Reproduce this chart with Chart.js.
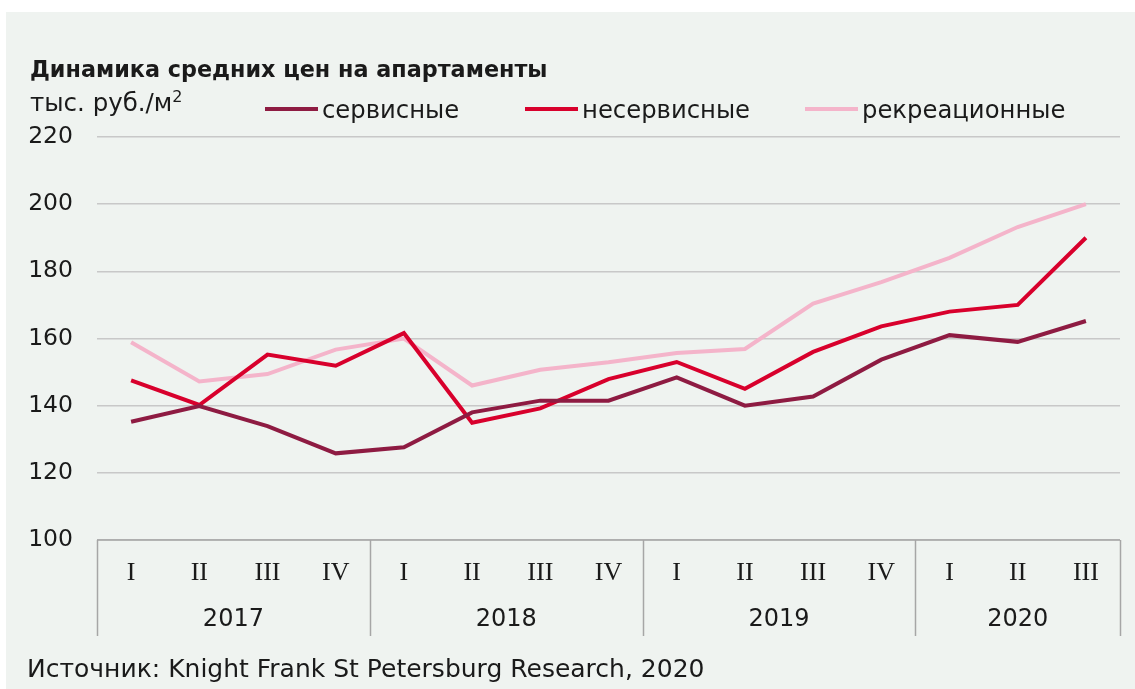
<!DOCTYPE html>
<html lang="ru">
<head>
<meta charset="utf-8">
<script src="https://cdn.jsdelivr.net/npm/chart.js@4/dist/chart.umd.min.js"></script>
<style>
  html, body { margin: 0; padding: 0; background: #ffffff; }
  body { width: 1135px; height: 689px; position: relative; overflow: hidden; font-family: "DejaVu Sans", Verdana, sans-serif; color: #1a1a1a; }
  #panel { position: absolute; left: 6px; top: 12px; width: 1129px; height: 677px; background: #eff3f0; }
  #chartBox { position: absolute; left: 0; top: 0; width: 1135px; height: 689px; }
  .txt { position: absolute; white-space: nowrap; line-height: 1.15; }
  #title { left: 30px; top: 57px; font-size: 22.3px; font-weight: bold; }
  #unit { left: 30px; top: 89px; font-size: 24.5px; }
  #unit sup { font-size: 16px; vertical-align: 9px; line-height: 0; }
  #source { left: 27px; top: 655px; font-size: 25px; }
  .leg { position: absolute; top: 95px; height: 28px; display: flex; align-items: center; font-size: 24.3px; }
  .leg i { display: inline-block; width: 53px; height: 4px; margin-right: 4px; }
</style>
</head>
<body>
<div id="panel"></div>
<div id="chartBox"><canvas id="priceChart" width="1135" height="689"></canvas></div>
<div class="txt" id="title">Динамика средних цен на апартаменты</div>
<div class="txt" id="unit">тыс. руб./м<sup>2</sup></div>
<div id="legend"></div>
<div class="txt" id="source">Источник: Knight Frank St Petersburg Research, 2020</div>
<script>
// Кварталы и годы (ось X)
const quarters = ['I', 'II', 'III', 'IV', 'I', 'II', 'III', 'IV', 'I', 'II', 'III', 'IV', 'I', 'II', 'III'];
const years = ['2017', '2018', '2019', '2020'];
const quartersPerYear = [4, 4, 4, 3];

// Средние цены, тыс. руб./м2
const servisnye = [135.2, 139.9, 133.9, 125.8, 127.6, 138.0, 141.5, 141.5, 148.4, 140.0, 142.7, 153.7, 161.0, 159.0, 165.2];
const neservisnye = [147.5, 140.2, 155.2, 151.9, 161.6, 134.9, 139.2, 147.9, 153.0, 145.0, 156.0, 163.6, 168.0, 170.0, 190.0];
const rekreacionnye = [158.9, 147.2, 149.4, 156.7, 160.0, 146.0, 150.7, 152.9, 155.7, 156.9, 170.4, 176.8, 184.0, 193.2, 200.0];

// Ось Y
const yMin = 100;
const yMax = 220;
const yStep = 20;

const seriesNames = ['сервисные', 'несервисные', 'рекреационные'];
const seriesColors = ['#8e1b42', '#d8002c', '#f4b4ca'];
const legendX = [265, 525, 805];

const makeSet = (label, data, color) => ({
    label: label,
    data: data,
    borderColor: color,
    backgroundColor: color,
    borderWidth: 4,
    pointRadius: 0,
    tension: 0,
    fill: false,
});

// Легенда в HTML
const legendEl = document.getElementById('legend');
seriesNames.forEach((name, i) => {
    const d = document.createElement('div');
    d.className = 'leg';
    d.style.left = legendX[i] + 'px';
    d.innerHTML = '<i style="background:' + seriesColors[i] + '"></i><span>' + name + '</span>';
    legendEl.appendChild(d);
});

// Рамка оси X, разделители лет и подписи годов
const yearAxisPlugin = {
    id: 'yearAxis',
    afterDraw(chart) {
        const ctx = chart.ctx;
        const xs = chart.scales.x;
        const area = chart.chartArea;
        const half = (xs.getPixelForValue(1) - xs.getPixelForValue(0)) / 2;
        const bottom = 636;
        ctx.save();
        ctx.strokeStyle = '#a6a6a6';
        ctx.lineWidth = 1.5;
        ctx.beginPath();
        ctx.moveTo(area.left, area.bottom);
        ctx.lineTo(area.right, area.bottom);
        ctx.stroke();
        let start = 0;
        ctx.font = '24px "DejaVu Sans", Verdana, sans-serif';
        ctx.fillStyle = '#1a1a1a';
        ctx.textAlign = 'center';
        ctx.textBaseline = 'middle';
        const drawSep = (x) => {
            ctx.beginPath();
            ctx.moveTo(Math.round(x) + 0.5, area.bottom);
            ctx.lineTo(Math.round(x) + 0.5, bottom);
            ctx.stroke();
        };
        drawSep(xs.getPixelForValue(0) - half);
        years.forEach((yr, i) => {
            const end = start + quartersPerYear[i] - 1;
            const x0 = xs.getPixelForValue(start) - half;
            const x1 = i === years.length - 1 ? area.right : xs.getPixelForValue(end) + half;
            drawSep(x1);
            ctx.fillText(yr, (x0 + x1) / 2, 620);
            start = end + 1;
        });
        ctx.restore();
    }
};

const ctx = document.getElementById('priceChart').getContext('2d');
new Chart(ctx, {
    type: 'line',
    data: {
        labels: quarters,
        datasets: [
            makeSet(seriesNames[0], servisnye, seriesColors[0]),
            makeSet(seriesNames[1], neservisnye, seriesColors[1]),
            makeSet(seriesNames[2], rekreacionnye, seriesColors[2]),
        ],
    },
    options: {
        responsive: false,
        animation: false,
        layout: { padding: { top: 137, right: 15, left: 0, bottom: 0 } },
        plugins: {
            legend: { display: false },
            tooltip: { enabled: false },
        },
        scales: {
            x: {
                offset: true,
                grid: { display: false },
                border: { display: false },
                ticks: {
                    color: '#1a1a1a',
                    padding: 10,
                    maxRotation: 0,
                    autoSkip: false,
                    font: { family: '"Liberation Serif", "Times New Roman", serif', size: 26 },
                },
                afterFit(scale) { scale.height = 149; },
            },
            y: {
                min: yMin,
                max: yMax,
                ticks: {
                    stepSize: yStep,
                    color: '#1a1a1a',
                    padding: 24,
                    font: { family: '"DejaVu Sans", Verdana, sans-serif', size: 23.5 },
                },
                grid: { color: '#c8c8c8', lineWidth: 1.5, drawTicks: false },
                border: { display: false },
                afterFit(scale) { scale.width = 97; },
            },
        },
    },
    plugins: [yearAxisPlugin],
});
</script>
</body>
</html>
